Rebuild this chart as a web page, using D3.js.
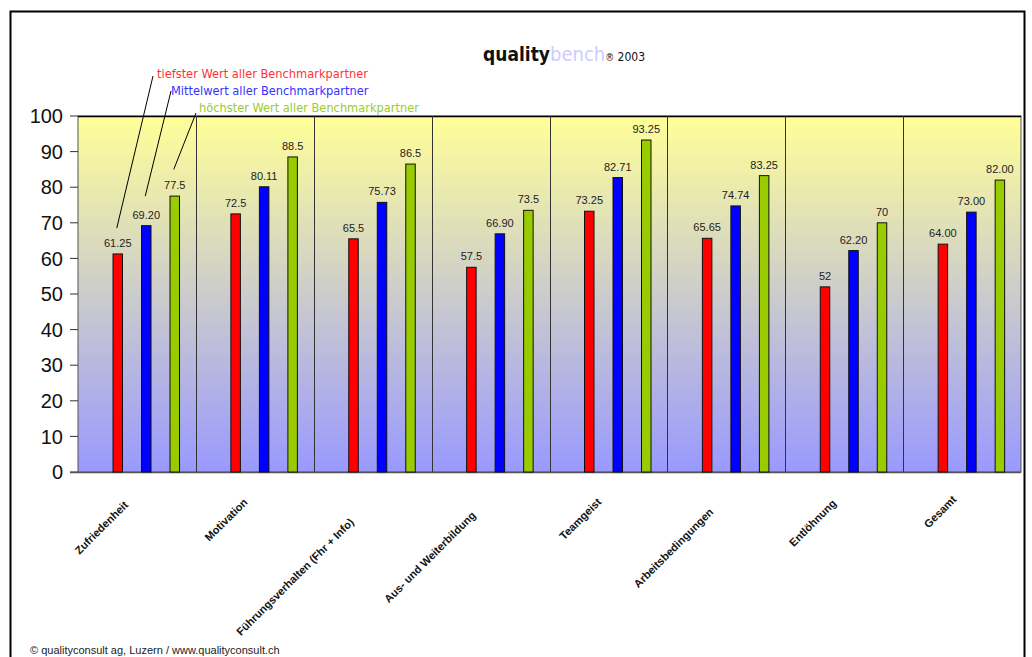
<!DOCTYPE html>
<html>
<head>
<meta charset="utf-8">
<script src="https://cdn.jsdelivr.net/npm/d3@7"></script>
<style>
  body { margin: 0; background: #fff; }
  svg { display: block; font-family: "Liberation Sans", Arial, sans-serif; }
</style>
</head>
<body>
<svg id="chart" width="1032" height="657"></svg>
<script>
// ===== Data =====
const categories = ["Zufriedenheit", "Motivation", "Führungsverhalten (Fhr + Info)",
    "Aus- und Weiterbildung", "Teamgeist", "Arbeitsbedingungen", "Entlöhnung", "Gesamt"];
const lowValues  = [61.25, 72.5, 65.5, 57.5, 73.25, 65.65, 52, 64.00];
const meanValues = [69.20, 80.11, 75.73, 66.90, 82.71, 74.74, 62.20, 73.00];
const highValues = [77.5, 88.5, 86.5, 73.5, 93.25, 83.25, 70, 82.00];
const lowLabels  = ["61.25", "72.5", "65.5", "57.5", "73.25", "65.65", "52", "64.00"];
const meanLabels = ["69.20", "80.11", "75.73", "66.90", "82.71", "74.74", "62.20", "73.00"];
const highLabels = ["77.5", "88.5", "86.5", "73.5", "93.25", "83.25", "70", "82.00"];
const seriesNames = ["tiefster Wert aller Benchmarkpartner", "Mittelwert aller Benchmarkpartner",
    "höchster Wert aller Benchmarkpartner"];
const yTicks = [0, 10, 20, 30, 40, 50, 60, 70, 80, 90, 100];

const series = [
    { key: "low",  values: lowValues,  labels: lowLabels,  fill: "#FF0000", text: "#FF3333" },
    { key: "mean", values: meanValues, labels: meanLabels, fill: "#0000FF", text: "#3333FF" },
    { key: "high", values: highValues, labels: highLabels, fill: "#99CC00", text: "#99CC33" }
];

// ===== Layout =====
const plot = { left: 78, right: 1021, top: 116, bottom: 472 };
const narrow = '"Liberation Sans Narrow", "DejaVu Sans Condensed", Arial, sans-serif';
const svg = d3.select('#chart');

const x0 = d3.scaleBand().domain(categories).range([plot.left, plot.right]);
const bw = x0.bandwidth();
const x1 = d3.scaleBand().domain(series.map(s => s.key))
    .range([0.297 * bw, 0.297 * bw + 66.5]).paddingInner(0.667);
const y = d3.scaleLinear().domain([0, 100]).range([plot.bottom, plot.top]);

// Outer frame
svg.append('path')
    .attr('d', `M 10.5 657 L 10.5 11.5 L 1024.5 11.5 L 1024.5 657`)
    .style('fill', 'none').style('stroke', '#000').style('stroke-width', '2px');

// Plot background gradient (yellow -> grey -> blue)
const grad = svg.append('defs').append('linearGradient')
    .attr('id', 'bg').attr('x1', 0).attr('y1', 0).attr('x2', 0).attr('y2', 1);
grad.append('stop').attr('offset', '0%').attr('stop-color', '#FFFF99');
grad.append('stop').attr('offset', '100%').attr('stop-color', '#9999FF');

svg.append('rect')
    .attr('x', plot.left).attr('y', plot.top)
    .attr('width', plot.right - plot.left).attr('height', plot.bottom - plot.top)
    .style('fill', 'url(#bg)').style('stroke', '#555').style('stroke-width', '1px');

// Top border is black
svg.append('line')
    .attr('x1', plot.left).attr('x2', plot.right)
    .attr('y1', plot.top + 0.5).attr('y2', plot.top + 0.5)
    .style('stroke', '#000').style('stroke-width', '1.5px');

// Category separators
categories.slice(1).forEach(c => {
    svg.append('line')
        .attr('x1', Math.round(x0(c)) + 0.5).attr('x2', Math.round(x0(c)) + 0.5)
        .attr('y1', plot.top).attr('y2', plot.bottom)
        .style('stroke', '#333').style('stroke-width', '1px');
});

// Y axis
const yAxis = svg.append('g');
yTicks.forEach(t => {
    yAxis.append('line')
        .attr('x1', 70).attr('x2', plot.left)
        .attr('y1', y(t)).attr('y2', y(t))
        .style('stroke', '#333').style('stroke-width', '1px');
    yAxis.append('text')
        .attr('x', 63).attr('y', y(t))
        .attr('dy', '0.36em')
        .attr('text-anchor', 'end')
        .style('font-size', '20px')
        .style('fill', '#111')
        .text(t);
});
svg.append('line')
    .attr('x1', 70).attr('x2', plot.right)
    .attr('y1', plot.bottom + 0.5).attr('y2', plot.bottom + 0.5)
    .style('stroke', '#555').style('stroke-width', '1.5px');

// Bars + value labels
const groups = svg.selectAll('g.cat').data(categories).join('g')
    .attr('class', 'cat')
    .attr('transform', c => `translate(${x0(c)},0)`);

series.forEach(s => {
    groups.append('rect')
        .attr('x', x1(s.key))
        .attr('y', (c, i) => y(s.values[i]))
        .attr('width', x1.bandwidth())
        .attr('height', (c, i) => plot.bottom - y(s.values[i]))
        .style('fill', s.fill)
        .style('stroke', '#111')
        .style('stroke-width', '1px');
    groups.append('text')
        .attr('x', x1(s.key) + x1.bandwidth() / 2)
        .attr('y', (c, i) => y(s.values[i]) - 7)
        .attr('text-anchor', 'middle')
        .style('font-size', '11px')
        .style('fill', '#222')
        .text((c, i) => s.labels[i]);
});

// Category labels, rotated -45deg; longer labels sit lower (as in the original)
const catLabels = svg.append('g');
categories.forEach(c => {
    const cx = x0(c) + bw / 2;
    const t = catLabels.append('text')
        .attr('text-anchor', 'end')
        .style('font-size', '11px')
        .style('font-weight', 'bold')
        .style('fill', '#111')
        .text(c);
    const len = t.node().getComputedTextLength();
    const ex = cx - 6 - len * 0.11;
    const ey = 487 + len * 0.19;
    t.attr('transform', `translate(${ex},${ey}) rotate(-45)`).attr('dy', '0.7em');
});

// Title
const title = svg.append('text')
    .attr('x', 483).attr('y', 61)
    .style('font-family', narrow);
title.append('tspan').style('font-size', '19px').style('font-weight', 'bold').style('fill', '#111').text('quality');
title.append('tspan').style('font-size', '20px').style('fill', '#CCCCFF').text('bench');
title.append('tspan').style('font-size', '10px').style('fill', '#111').text('®');
title.append('tspan').style('font-size', '12px').style('fill', '#111').text(' 2003');

// Series annotations with leader lines to the first group's bars
const first = categories[0];
const annot = [
    { tx: 157, ty: 78,  lx: 153, ly: 76,  v: 68.5 },
    { tx: 171, ty: 95,  lx: 171, ly: 91,  v: 77.5 },
    { tx: 199, ty: 112, lx: 196, ly: 113, v: 85 }
];
series.forEach((s, i) => {
    const a = annot[i];
    svg.append('text')
        .attr('x', a.tx).attr('y', a.ty)
        .style('font-family', narrow)
        .style('font-size', '12.7px')
        .style('fill', s.text)
        .text(seriesNames[i]);
    svg.append('line')
        .attr('x1', a.lx).attr('y1', a.ly)
        .attr('x2', x0(first) + x1(s.key) + x1.bandwidth() / 2 - 1)
        .attr('y2', y(a.v))
        .style('stroke', '#000').style('stroke-width', '1px');
});

// Footer
svg.append('text')
    .attr('x', 30).attr('y', 654)
    .style('font-size', '11px')
    .style('fill', '#222')
    .text('© qualityconsult ag, Luzern / www.qualityconsult.ch');
</script>
</body>
</html>
